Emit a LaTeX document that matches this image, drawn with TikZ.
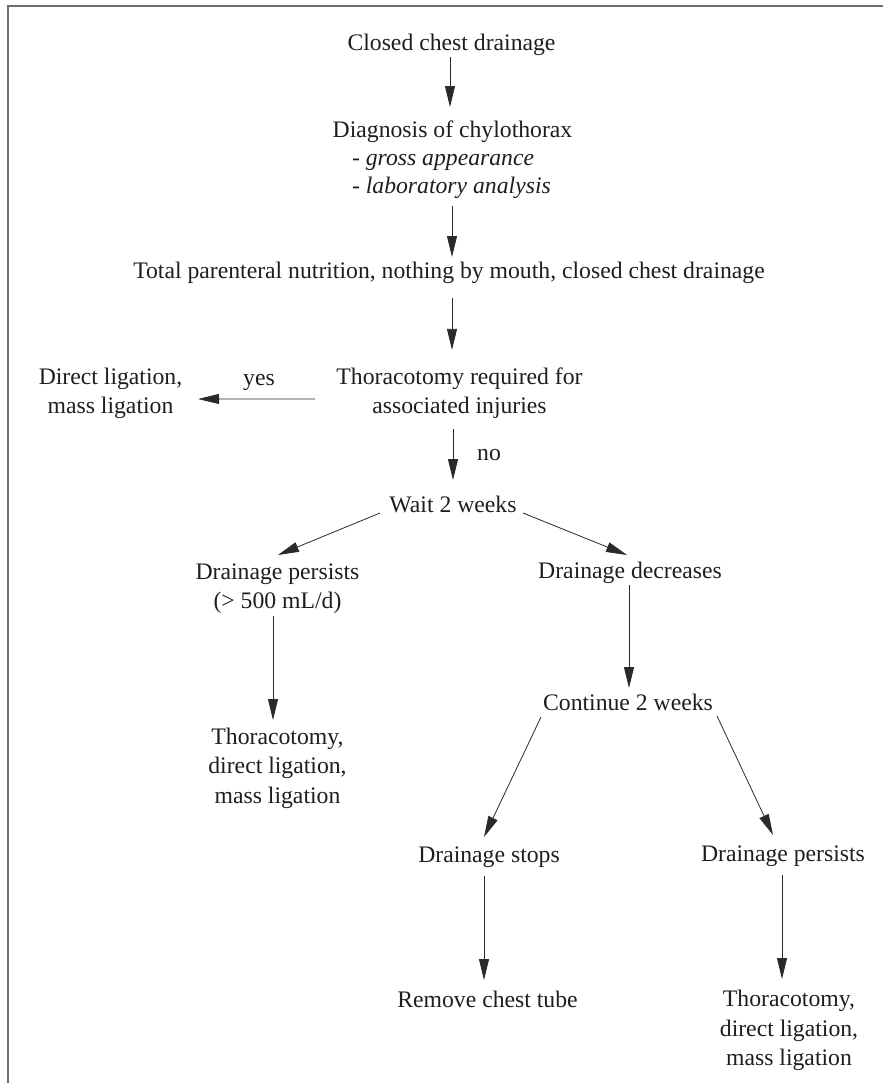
\documentclass[tikz,border=0pt]{standalone}
\usepackage{fontspec}
\setmainfont{Liberation Serif}
\usetikzlibrary{arrows.meta,calc}
\definecolor{ink}{HTML}{1E1E1E}
\definecolor{lineink}{HTML}{2A2A2A}
\definecolor{frame}{HTML}{6E6E6E}
\tikzset{
  lbl/.style={inner sep=0pt, outer sep=0pt, text=ink, anchor=base},
  ml/.style={inner sep=0pt, outer sep=0pt, text=ink, align=center, anchor=center},
  arr/.style={draw=lineink, line width=0.8bp, -{Triangle[length=21bp,width=10bp]}},
}
\begin{document}
\begin{tikzpicture}[x=1bp,y=-1bp,font=\fontsize{23.7bp}{29.5bp}\selectfont]
\useasboundingbox (0,0) rectangle (883,1083);
% frame
\draw[frame, line width=2bp] (883,6) -- (8,6) -- (8,1083);

% nodes
\node[lbl] (n1) at (451.5,50) {Closed chest drainage};
\node[lbl] (n2) at (452.5,137) {Diagnosis of chylothorax};
\node[lbl, anchor=base west] (n2a) at (352,165) {- \textit{gross appearance}};
\node[lbl, anchor=base west] (n2b) at (352,193) {- \textit{laboratory analysis}};
\node[lbl] (n3) at (449,278) {Total parenteral nutrition, nothing by mouth, closed chest drainage};
\node[ml] (n4) at (459.5,392.9) {\strut Thoracotomy required for\\\strut associated injuries};
\node[ml] (dl) at (110.5,393.1) {\strut Direct ligation,\\\strut mass ligation};
\node[lbl] (yes) at (259,385) {yes};
\node[lbl] (no) at (489,460) {no};
\node[lbl] (wait) at (453,512) {Wait 2 weeks};
\node[ml] (dp1) at (277.5,588.1) {\strut Drainage persists\\\strut (> 500 mL/d)};
\node[lbl] (dd) at (630,578) {Drainage decreases};
\node[ml] (t1) at (277.5,767.6) {\strut Thoracotomy,\\\strut direct ligation,\\\strut mass ligation};
\node[lbl] (cont) at (628,710) {Continue 2 weeks};
\node[lbl] (ds) at (489,862) {Drainage stops};
\node[lbl] (dp2) at (783,861) {Drainage persists};
\node[lbl] (rm) at (487.5,1007) {Remove chest tube};
\node[ml] (t2) at (789,1030.1) {\strut Thoracotomy,\\\strut direct ligation,\\\strut mass ligation};

% connectors
\draw[arr] ($(n1.base)+(-1.5,7)$) -- ($(n2.base)+(-2.5,-30)$);
\draw[arr] ($(n2b.base west)+(100,13)$) -- ($(n3.base)+(3,-21)$);
\draw[arr] ($(n3.base)+(3,20)$) -- ($(n4.center)+(-7.5,-43)$);
\draw[arr] ($(n4.center)+(-144.5,6)$) -- ($(dl.center)+(87.5,5.9)$);
\draw[arr] ($(n4.center)+(-6.5,36)$) -- ($(wait.base)+(0,-32)$);
\draw[arr] ($(wait.base)+(-73,1)$) -- ($(dp1.center)+(0.5,-33.1)$);
\draw[arr] ($(wait.base)+(70,1)$) -- ($(dd.base)+(-3,-23)$);
\draw[arr] ($(dp1.center)+(-4.5,28)$) -- ($(t1.center)+(-4.5,-47.6)$);
\draw[arr] ($(dd.base)+(-1,7)$) -- ($(cont.base)+(1,-22)$);
\draw[arr] ($(cont.base)+(-87,7)$) -- ($(ds.base)+(-5,-25)$);
\draw[arr] ($(cont.base)+(89,6)$) -- ($(dp2.base)+(-10,-26)$);
\draw[arr] ($(ds.base)+(-5,14)$) -- ($(rm.base)+(-3.5,-27)$);
\draw[arr] ($(dp2.base)+(-1,14)$) -- ($(t2.center)+(-7,-51.1)$);
\end{tikzpicture}
\end{document}
